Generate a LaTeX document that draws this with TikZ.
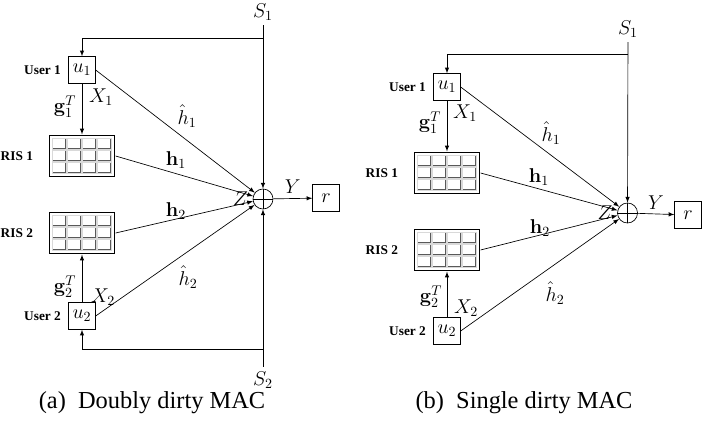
\RequirePackage{fix-cm}
\documentclass[tikz,border=0pt]{standalone}
\usepackage[no-math]{fontspec}
\setmainfont{Liberation Serif}
\usepackage{amsmath}
\usetikzlibrary{positioning}
\usetikzlibrary{calc}

\tikzset{
	box/.style={draw, minimum size=20pt, inner sep=0pt},
	ris/.style={draw, double, line width=0.4pt, double distance=0.7pt, minimum width=50pt, minimum height=32pt, inner sep=0pt},
	cell/.style={draw=black!65, double=black!15, double distance=0.4pt, line width=0.25pt},
	adder/.style={draw, circle, minimum size=15pt, inner sep=0pt},
	lbl/.style={font=\fontsize{15}{17}\selectfont},
	usr/.style={font=\fontsize{10}{12}\selectfont\bfseries},
	subcap/.style={font=\fontsize{18.3}{21}\selectfont}
}

%cells of one RIS panel
\newcommand{\risgrid}[1]{%
	\foreach \i in {0,...,3}
		\foreach \j in {0,...,2}
			\draw[cell] ($(#1.north west)+(4+\i*15,4+\j*12)$) rectangle ++(13.5,10.5);
}

\begin{document}
\begin{tikzpicture}[x=0.75pt, y=-0.75pt, >=latex, line width=0.5pt]
		\useasboundingbox (0,0) rectangle (702,424);

		%%%% (a) doubly dirty MAC
		%users, panels, adder, receiver
		\node[box, lbl] (ua1) at (82,70) {$u_1$};
		\node[box, lbl] (ua2) at (82,316) {$u_2$};
		\node[ris] (risa1) at (82,156) {};
		\node[ris] (risa2) at (82,233) {};
		\risgrid{risa1}
		\risgrid{risa2}
		\node[adder] (adda) at (263,199) {};
		\draw (adda.north) -- (adda.south) (adda.west) -- (adda.east);
		\node[box, lbl] (ra) at (326,198) {$r$};

		%names
		\node[usr, left=2pt of ua1] (usera1) {User 1};
		\node[usr, left=2pt of ua2] (usera2) {User 2};
		\node[usr, left=8pt of risa1] (nrisa1) {RIS 1};
		\node[usr, left=8pt of risa2] (nrisa2) {RIS 2};

		%states
		\node[lbl] (sa1) at (263,12) {$S_1$};
		\node[lbl] (sa2) at (263,380) {$S_2$};
		\coordinate (ca1) at (263,38);
		\coordinate (ca2) at (263,349);
		\draw[->] (sa1) -- (adda);
		\draw[->] (sa2) -- (adda);
		\draw[->] (ca1) -| (ua1);
		\draw[->] (ca2) -| (ua2);

		%channels
		\draw[->] (ua1) -- (risa1);
		\draw[->] (ua2) -- (risa2);
		\draw[->] (ua1.east) -- (adda);
		\draw[->] (ua2.east) -- (adda);
		\draw[->] (risa1.east) -- (adda);
		\draw[->] (risa2.east) -- (adda);
		\draw[->] (adda) -- node[lbl, above] (ya) {$Y$} (ra);
		\node[lbl, left=0pt of adda] (za) {$Z$};

		\draw(65,107) node[lbl] (ga1) {$\mathbf{g}_1^T$};
		\draw(101,97) node[lbl] (xa1) {$X_1$};
		\draw(65,287) node[lbl] (ga2) {$\mathbf{g}_2^T$};
		\draw(103,297) node[lbl] (xa2) {$X_2$};
		\draw(187,116) node[lbl] (hha1) {$\hat{h}_1$};
		\draw(176,160) node[lbl] (ha1) {$\mathbf{h}_1$};
		\draw(176,211) node[lbl] (ha2) {$\mathbf{h}_2$};
		\draw(188,277) node[lbl] (hha2) {$\hat{h}_2$};

		\node[subcap] (capa) at (152,403) {(a)\ \ Doubly dirty MAC};

		%%%% (b) single dirty MAC
		\node[box, lbl] (ub1) at (447,87) {$u_1$};
		\node[box, lbl] (ub2) at (447,331) {$u_2$};
		\node[ris] (risb1) at (447,173) {};
		\node[ris] (risb2) at (447,250) {};
		\risgrid{risb1}
		\risgrid{risb2}
		\node[adder] (addb) at (627.5,213) {};
		\draw (addb.north) -- (addb.south) (addb.west) -- (addb.east);
		\node[box, lbl] (rb) at (688,215) {$r$};

		\node[usr, left=2pt of ub1] (userb1) {User 1};
		\node[usr, left=2pt of ub2] (userb2) {User 2};
		\node[usr, left=8pt of risb1] (nrisb1) {RIS 1};
		\node[usr, left=8pt of risb2] (nrisb2) {RIS 2};

		\node[lbl] (sb1) at (628,29) {$S_1$};
		\coordinate (cb1) at (627.5,54);
		\draw[->] (sb1) -- (addb);
		\draw[->] (cb1) -| (ub1);

		\draw[->] (ub1) -- (risb1);
		\draw[->] (ub2) -- (risb2);
		\draw[->] (ub1.east) -- (addb);
		\draw[->] (ub2.east) -- (addb);
		\draw[->] (risb1.east) -- (addb);
		\draw[->] (risb2.east) -- (addb);
		\draw[->] (addb) -- node[lbl, above] (yb) {$Y$} (rb);
		\node[lbl, left=0pt of addb] (zb) {$Z$};

		\draw(430,123) node[lbl] (gb1) {$\mathbf{g}_1^T$};
		\draw(465,113) node[lbl] (xb1) {$X_1$};
		\draw(431,297) node[lbl] (gb2) {$\mathbf{g}_2^T$};
		\draw(466,308) node[lbl] (xb2) {$X_2$};
		\draw(551,133) node[lbl] (hhb1) {$\hat{h}_1$};
		\draw(539,177) node[lbl] (hb1) {$\mathbf{h}_1$};
		\draw(540,228) node[lbl] (hb2) {$\mathbf{h}_2$};
		\draw(555,293) node[lbl] (hhb2) {$\hat{h}_2$};

		\node[subcap] (capb) at (524,403) {(b)\ \ Single dirty MAC};
	\end{tikzpicture}
\end{document}
